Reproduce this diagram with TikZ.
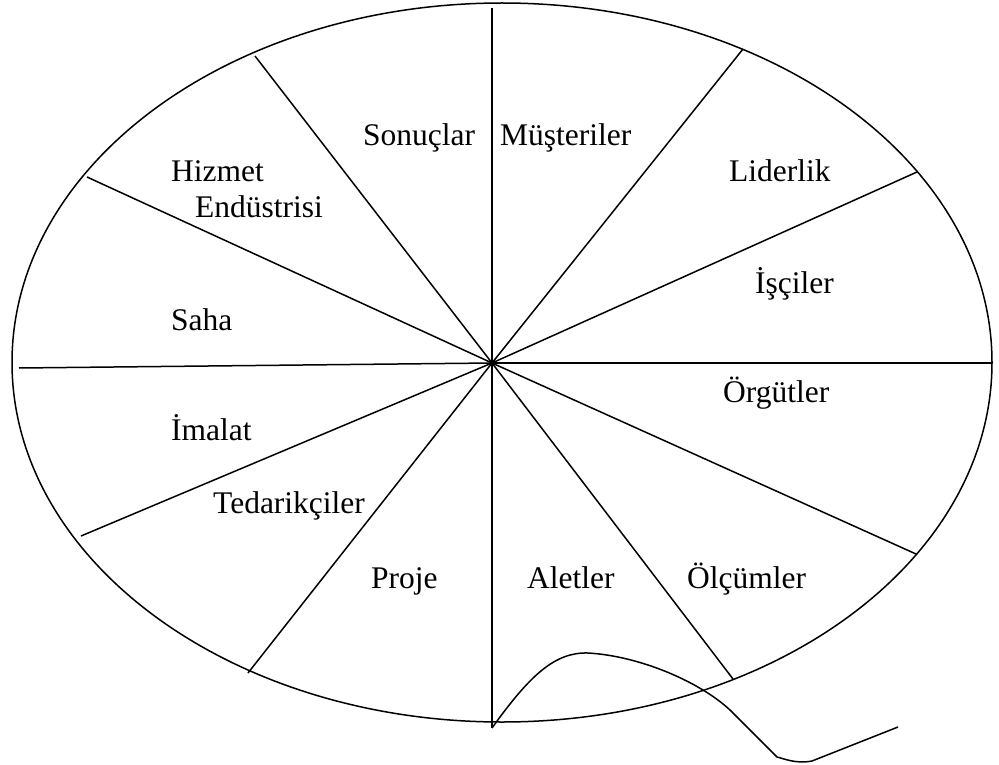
\documentclass[tikz,border=0pt]{standalone}
\usepackage{fontspec}
\setmainfont{Liberation Serif}
\usetikzlibrary{calc}
\definecolor{whink}{HTML}{000000}
\tikzset{
  wh rim/.style={draw=whink, line width=1.5pt},
  wh spoke/.style={draw=whink, line width=1.5pt, line cap=butt},
  wh tail/.style={draw=whink, line width=1.5pt, line join=round},
  wh label/.style={font=\fontsize{31.5}{36}\selectfont, text=whink,
    inner sep=0pt, anchor=base west}
}
\begin{document}
\begin{tikzpicture}[x=1pt, y=-1pt]
  \useasboundingbox (0,0) rectangle (999,765);
  % wheel rim and hub
  \coordinate (mid) at (502,362.5);
  \coordinate (hub) at (492,363);
  \draw[wh rim] (mid) ellipse [x radius=490pt, y radius=359.5pt];
  % spoke ends on the rim
  \coordinate (top) at (492,8);
  \coordinate (nne) at (743,49);
  \coordinate (ene) at (917,172);
  \coordinate (est) at (992,363);
  \coordinate (ese) at (916,554);
  \coordinate (sse) at (733,679);
  \coordinate (bot) at (492,728);
  \coordinate (ssw) at (248,673);
  \coordinate (wsw) at (81,536);
  \coordinate (wst) at (19,368);
  \coordinate (wnw) at (87,177);
  \coordinate (nnw) at (255,56);
  \foreach \p in {top,nne,ene,est,ese,sse,bot,ssw,wsw,wst,wnw,nnw}
    \draw[wh spoke] (hub) -- (\p);
  % the segment names
  \node[wh label] (sonuc) at (363,146) {Sonuçlar};
  \node[wh label] (musteri) at (500,146) {Müşteriler};
  \node[wh label] (lider) at (729,182) {Liderlik};
  \node[wh label] (isci) at (755,293) {İşçiler};
  \node[wh label] (orgut) at (723,402) {Örgütler};
  \node[wh label] (olcum) at (687,588) {Ölçümler};
  \node[wh label] (alet) at (527,588) {Aletler};
  \node[wh label] (proje) at (371,588) {Proje};
  \node[wh label] (tedarik) at (213,513) {Tedarikçiler};
  \node[wh label] (imalat) at (171,440) {İmalat};
  \node[wh label] (saha) at (171,330) {Saha};
  \node[wh label] (hizmet) at (171,182) {Hizmet};
  \node[wh label] (endustri) at (195,218) {Endüstrisi};
  % loose tail below the wheel
  \coordinate (tailend) at (898,727);
  \draw[wh tail] (bot) .. controls (530,675) and (555,652) .. (588,653)
    .. controls (640,656) and (700,682) .. (730,710) -- (777,757)
    .. controls (785,759) and (796,764) .. (812,761) -- (tailend);
\end{tikzpicture}
\end{document}
